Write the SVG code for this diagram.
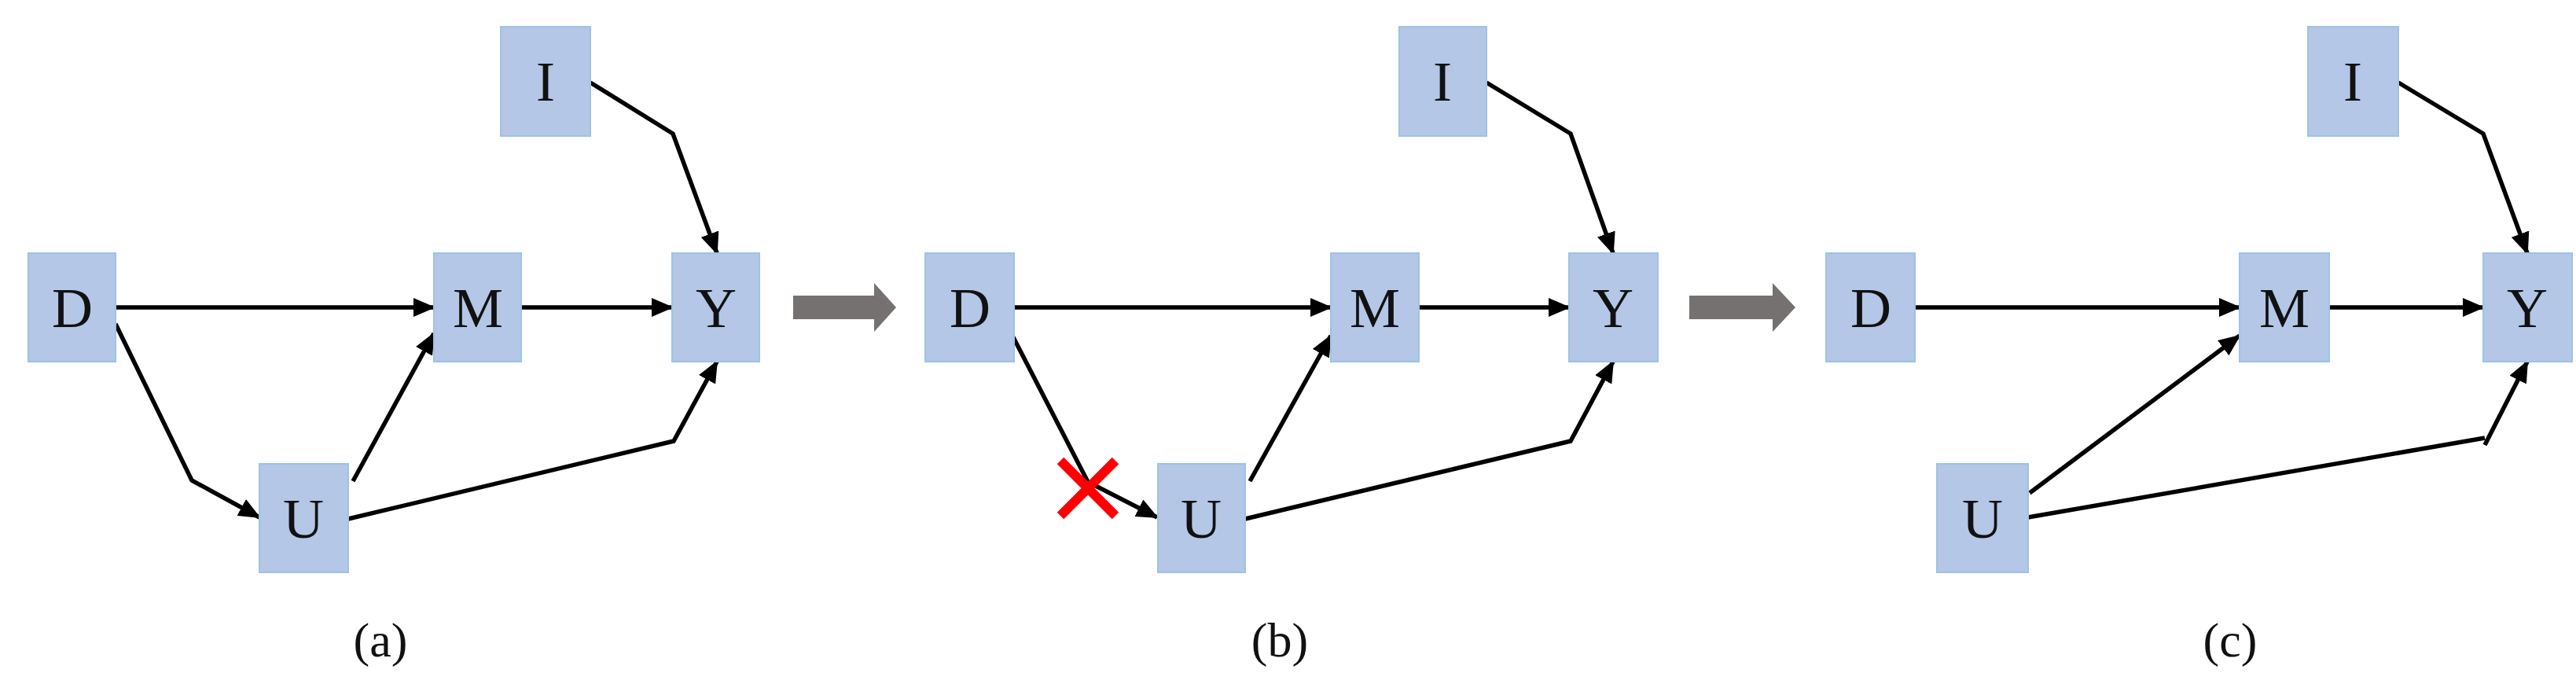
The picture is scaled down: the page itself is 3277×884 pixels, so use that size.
<svg xmlns="http://www.w3.org/2000/svg" width="3277" height="884" viewBox="0 0 3277 884">
<style>
.b{fill:#B4C7E7;stroke:#9DC3E6;stroke-width:2}
.t{font-family:"Liberation Serif",serif;font-size:72px;text-anchor:middle;fill:#111}
.c{fill:none;stroke:#000;stroke-width:5.5;marker-end:url(#ah)}
.n{fill:none;stroke:#000;stroke-width:5.5}
.l{font-family:"Liberation Serif",serif;font-size:62px;text-anchor:middle;fill:#111}
</style>
<defs>
<marker id="ah" markerUnits="userSpaceOnUse" markerWidth="28" markerHeight="24" refX="26" refY="12" orient="auto"><path d="M0,0 L28,12 L0,24 Z" fill="#000"/></marker>
</defs>
<rect width="3277" height="884" fill="#fff"/>
<g id="connectors">
<path class="c" d="M147,391 H552"/><path class="c" d="M663,391 H855"/>
<path class="c" d="M751,105 L856,170 L912,322"/>
<path class="c" d="M147,412 L244,611 L330,658"/>
<path class="c" d="M449,612 L552,424"/>
<path class="c" d="M443,660 L857,561 L912,460"/>
<path class="c" d="M1290,391 H1693"/><path class="c" d="M1805,391 H1996"/>
<path class="c" d="M1891,105 L1998,170 L2052,322"/>
<path class="c" d="M1288,427 L1384,613 L1472,658"/>
<path class="c" d="M1590,612 L1693,427"/>
<path class="c" d="M1584,660 L1998,561 L2052,460"/>
<path class="c" d="M2436,391 H2849"/><path class="c" d="M2963,391 H3159"/>
<path class="c" d="M3051,105 L3159,170 L3215,322"/>
<path class="c" d="M2582,627 L2849,427"/>
<path class="n" d="M2580,658 L3161,557"/>
<path class="c" d="M3161,566 L3215,460"/>
<path d="M1009,376 H1112 V360 L1140,391 L1112,422 V406 H1009 Z" fill="#767171"/>
<path d="M2149,376 H2255 V360 L2284,391 L2255,422 V406 H2149 Z" fill="#767171"/>
<path d="M1349,586 L1419,656 M1419,586 L1349,656" stroke="#FF0000" stroke-width="12" fill="none"/>
</g>
<g id="a-D"><rect class="b" x="36" y="322" width="111" height="138"/><text class="t" x="92" y="416">D</text></g>
<g id="a-M"><rect class="b" x="552" y="322" width="111" height="138"/><text class="t" x="608" y="416">M</text></g>
<g id="a-Y"><rect class="b" x="855" y="322" width="111" height="138"/><text class="t" x="911" y="416">Y</text></g>
<g id="a-I"><rect class="b" x="637" y="34" width="114" height="139"/><text class="t" x="694" y="128">I</text></g>
<g id="a-U"><rect class="b" x="330" y="590" width="113" height="138"/><text class="t" x="386" y="684">U</text></g>
<g id="b-D"><rect class="b" x="1177" y="322" width="113" height="138"/><text class="t" x="1234" y="416">D</text></g>
<g id="b-M"><rect class="b" x="1693" y="322" width="112" height="138"/><text class="t" x="1749" y="416">M</text></g>
<g id="b-Y"><rect class="b" x="1996" y="322" width="113" height="138"/><text class="t" x="2052" y="416">Y</text></g>
<g id="b-I"><rect class="b" x="1780" y="34" width="111" height="139"/><text class="t" x="1835" y="128">I</text></g>
<g id="b-U"><rect class="b" x="1473" y="590" width="111" height="138"/><text class="t" x="1528" y="684">U</text></g>
<g id="c-D"><rect class="b" x="2323" y="322" width="113" height="138"/><text class="t" x="2380" y="416">D</text></g>
<g id="c-M"><rect class="b" x="2849" y="322" width="114" height="138"/><text class="t" x="2906" y="416">M</text></g>
<g id="c-Y"><rect class="b" x="3159" y="322" width="113" height="138"/><text class="t" x="3215" y="416">Y</text></g>
<g id="c-I"><rect class="b" x="2936" y="34" width="115" height="139"/><text class="t" x="2993" y="128">I</text></g>
<g id="c-U"><rect class="b" x="2464" y="590" width="116" height="138"/><text class="t" x="2522" y="684">U</text></g>
<text class="l" x="484" y="835">(a)</text>
<text class="l" x="1628" y="835">(b)</text>
<text class="l" x="2837" y="835">(c)</text>
</svg>
